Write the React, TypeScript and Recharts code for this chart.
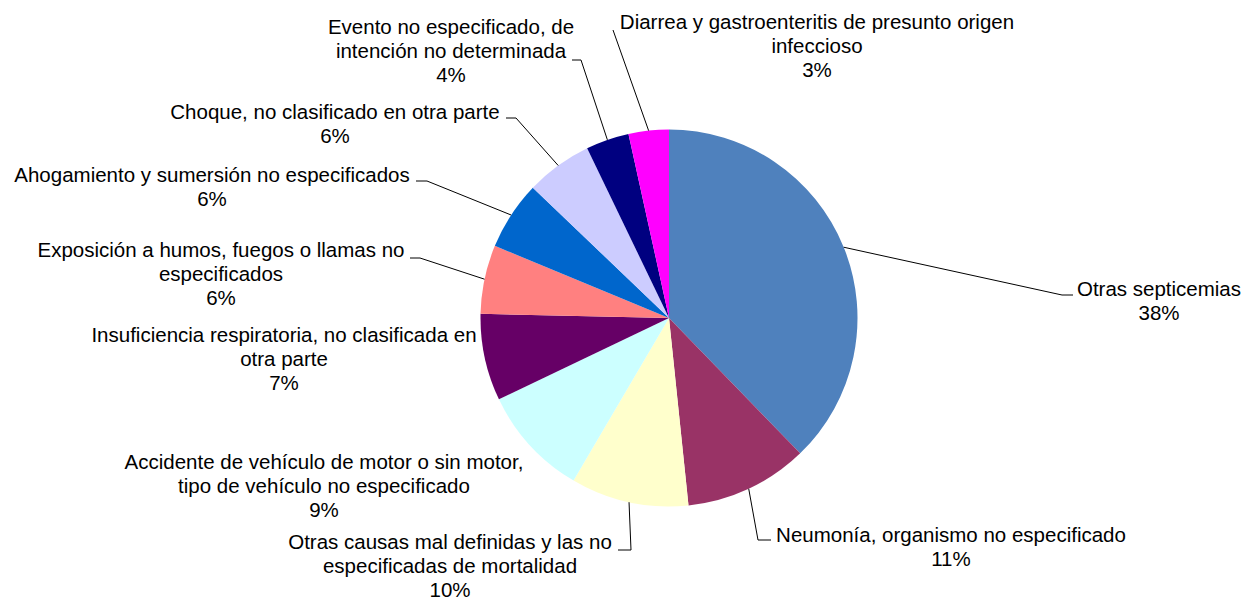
import React from "react";
import { PieChart, Pie, Cell } from "recharts";

const categories = [
  "Otras septicemias",
  "Neumonía, organismo no especificado",
  "Otras causas mal definidas y las no\nespecificadas de mortalidad",
  "Accidente de vehículo de motor o sin motor,\ntipo de vehículo no especificado",
  "Insuficiencia respiratoria, no clasificada en\notra parte",
  "Exposición a humos, fuegos o llamas no\nespecificados",
  "Ahogamiento y sumersión no especificados",
  "Choque, no clasificado en otra parte",
  "Evento no especificado, de\nintención no determinada",
  "Diarrea y gastroenteritis de presunto origen\ninfeccioso",
];

const values = [37.75, 10.6, 10.1, 9.45, 7.45, 5.9, 5.9, 5.7, 3.7, 3.45];

const colors = [
  "#4F81BD",
  "#993366",
  "#FFFFCC",
  "#CCFFFF",
  "#660066",
  "#FF8080",
  "#0066CC",
  "#CCCCFF",
  "#000080",
  "#FF00FF",
];

// label layout (page pixels): block centre x, first baseline y, leader path after the pie-edge point
type Layout = { x: number; y: number; leader: number[][] | null };
const labelLayout: Layout[] = [
  { x: 1159, y: 296, leader: [[1062, 295], [1073, 295]] },
  { x: 951, y: 542, leader: [[758, 540], [771, 540]] },
  { x: 450, y: 549, leader: [[631, 550], [618, 550]] },
  { x: 324, y: 469, leader: null },
  { x: 284, y: 342, leader: null },
  { x: 221, y: 257, leader: [[420, 258], [410, 258]] },
  { x: 212, y: 182, leader: [[427, 181], [416, 181]] },
  { x: 335, y: 119, leader: [[516, 118], [506, 118]] },
  { x: 451, y: 34, leader: [[581, 60], [572, 60]] },
  { x: 817, y: 29, leader: [[613, 30]] },
];

const data = categories.map((name, i) => ({ name, value: values[i] }));

const FONT = "'Liberation Sans', Arial, sans-serif";
const RAD = Math.PI / 180;

const renderLabel = (props: any) => {
  const { cx, cy, midAngle, outerRadius, index, percent, name } = props;
  const lay = labelLayout[index];
  const sx = cx + outerRadius * Math.cos(-midAngle * RAD);
  const sy = cy + outerRadius * Math.sin(-midAngle * RAD);
  const lines = String(name).split("\n");
  lines.push(`${Math.round(percent * 100)}%`);
  const pts = lay.leader ? [[sx, sy], ...lay.leader] : null;
  return (
    <g key={`lbl-${index}`}>
      {pts && (
        <polyline
          points={pts.map((p) => p.join(",")).join(" ")}
          fill="none"
          stroke="#000"
          strokeWidth={1}
        />
      )}
      <text
        x={lay.x}
        y={lay.y}
        textAnchor="middle"
        fontFamily={FONT}
        fontSize={20.5}
        fill="#000"
      >
        {lines.map((l, k) => (
          <tspan key={k} x={lay.x} y={lay.y + k * 24}>
            {l}
          </tspan>
        ))}
      </text>
    </g>
  );
};

export default function App() {
  return (
    <div style={{ position: "absolute", left: 0, top: 0, background: "#fff" }}>
      <PieChart width={1246} height={600} margin={{ top: 0, right: 0, bottom: 0, left: 0 }}>
        <Pie
          data={data}
          dataKey="value"
          nameKey="name"
          cx={669}
          cy={318}
          outerRadius={188.5}
          startAngle={90}
          endAngle={-270}
          stroke="none"
          label={renderLabel}
          labelLine={false}
          isAnimationActive={false}
        >
          {data.map((d, i) => (
            <Cell key={d.name} fill={colors[i]} />
          ))}
        </Pie>
      </PieChart>
    </div>
  );
}
